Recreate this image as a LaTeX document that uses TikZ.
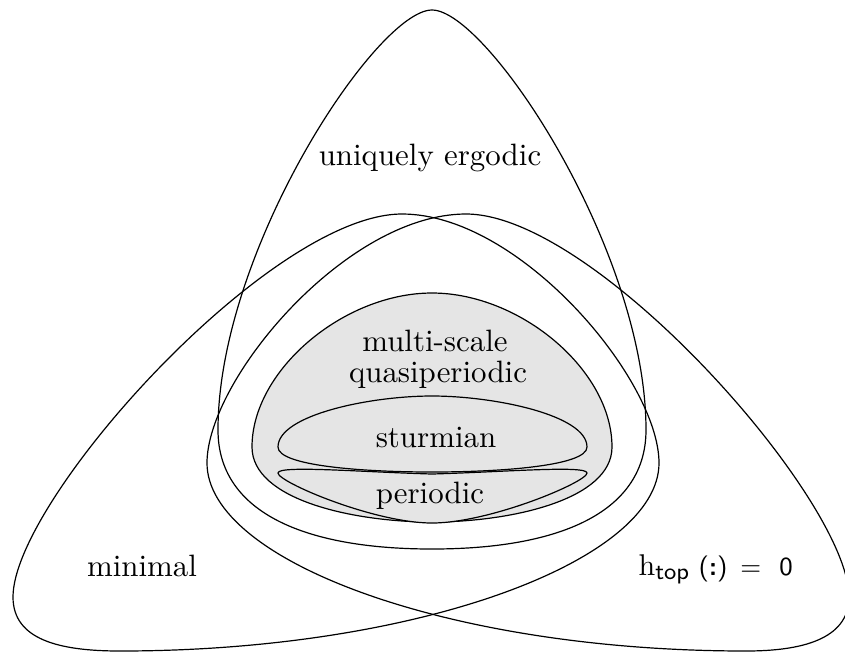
\documentclass[tikz,border=0pt]{standalone}
\begin{document}
\begin{tikzpicture}[x=0.33333pt,y=-0.33333pt,
  setline/.style={draw=black,line width=0.4pt},
  inner/.style={setline,fill=black!10},
  lbl/.style={inner sep=0pt,anchor=base,font=\fontsize{10.3}{10.4}\selectfont}]
\useasboundingbox (0,0) rectangle (845,652);
% uniquely ergodic
\draw[setline] (432,10) .. controls (377,10) and (218,250) .. (218,430)
  .. controls (218,510) and (300,549) .. (432,549)
  .. controls (564,549) and (646,510) .. (646,430)
  .. controls (646,250) and (487,10) .. (432,10) -- cycle;
% minimal
\draw[setline] (402,214) .. controls (270,214) and (13,500) .. (13,597)
  .. controls (13,640) and (60,651) .. (120,651)
  .. controls (420,651) and (659,560) .. (659,463)
  .. controls (659,380) and (520,214) .. (402,214) -- cycle;
% h_top = 0
\draw[setline] (466,214) .. controls (596,214) and (849,500) .. (849,597)
  .. controls (849,640) and (800,651) .. (746,651)
  .. controls (446,651) and (207,560) .. (207,463)
  .. controls (207,380) and (346,214) .. (466,214) -- cycle;
% multi-scale quasiperiodic
\draw[inner] (432,293) .. controls (520,293) and (612,370) .. (612,447)
  .. controls (612,500) and (510,522) .. (432,522)
  .. controls (354,522) and (252,500) .. (252,447)
  .. controls (252,370) and (344,293) .. (432,293) -- cycle;
% sturmian
\draw[inner] (278,447) .. controls (278,415) and (370,396) .. (432,396)
  .. controls (494,396) and (587,415) .. (587,447)
  .. controls (587,466) and (500,472) .. (432,472)
  .. controls (364,472) and (278,466) .. (278,447) -- cycle;
% periodic
\draw[inner] (278,473) .. controls (278,465) and (360,472) .. (432,474)
  .. controls (504,472) and (587,465) .. (587,473)
  .. controls (587,482) and (490,523) .. (432,523)
  .. controls (374,523) and (278,482) .. (278,473) -- cycle;
% labels
\node[lbl] (ue) at (430,165) {uniquely ergodic};
\node[lbl] (msqa) at (435,351) {multi-scale};
\node[lbl] (msqb) at (438,382) {quasiperiodic};
\node[lbl] (sturm) at (436,447) {sturmian};
\node[lbl] (per) at (430,503) {periodic};
\node[lbl] (mini) at (142,576) {minimal};
\node[lbl,anchor=base west] (htop) at (638,575) {$\mathrm{h}_{\mbox{\fontsize{7.7}{8}\selectfont\sffamily top}}$\hspace{2.7pt}{\fontsize{8.7}{10}\selectfont\sffamily(\textbf{:})\hspace{4.3pt}=\hspace{6pt}0}};
\end{tikzpicture}
\end{document}
